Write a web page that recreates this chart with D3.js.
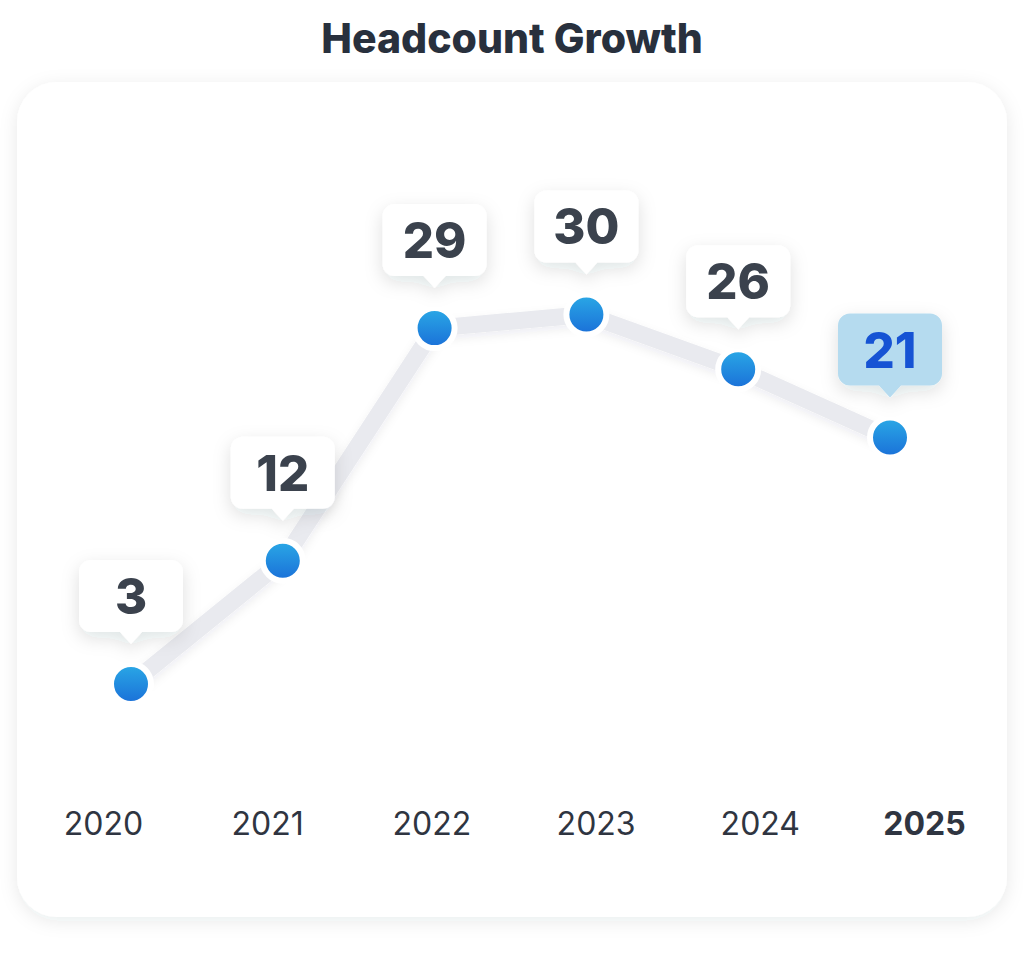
<!DOCTYPE html>
<html>
<head>
<meta charset="utf-8">
<script src="https://cdn.jsdelivr.net/npm/d3@7"></script>
<style>
  html, body { margin: 0; padding: 0; background: #fff; }
  svg { display: block; }
</style>
</head>
<body>
<svg></svg>
<script>
var W = 1024, H = 960;

// data
var years = ["2020", "2021", "2022", "2023", "2024", "2025"];
var headcount = [3, 12, 29, 30, 26, 21];
var highlightYear = "2025";
var title = "Headcount Growth";

var data = years.map(function (d, i) { return {year: d, value: headcount[i]}; });

var svg = d3.select("svg").attr("width", W).attr("height", H);

var defs = svg.append("defs");

var card = defs.append("filter").attr("id", "cardShadow")
  .attr("x", "-10%").attr("y", "-10%").attr("width", "120%").attr("height", "120%");
card.append("feDropShadow").attr("dx", 0).attr("dy", 4).attr("stdDeviation", 9)
  .attr("flood-color", "#1e2a3a").attr("flood-opacity", 0.09);

var tip = defs.append("filter").attr("id", "tipShadow")
  .attr("x", "-50%").attr("y", "-50%").attr("width", "200%").attr("height", "200%");
tip.append("feDropShadow").attr("dx", 0).attr("dy", 6).attr("stdDeviation", 9)
  .attr("flood-color", "#1e2a3a").attr("flood-opacity", 0.13);

var lineSh = defs.append("filter").attr("id", "lineShadow")
  .attr("x", "-20%").attr("y", "-20%").attr("width", "140%").attr("height", "140%");
lineSh.append("feDropShadow").attr("dx", 0).attr("dy", 4).attr("stdDeviation", 5)
  .attr("flood-color", "#1e2a3a").attr("flood-opacity", 0.07);

var grad = defs.append("linearGradient").attr("id", "dotGrad")
  .attr("x1", 0).attr("y1", 0).attr("x2", 0).attr("y2", 1);
grad.append("stop").attr("offset", "0%").attr("stop-color", "#2aa9e6");
grad.append("stop").attr("offset", "100%").attr("stop-color", "#1a6fd8");

// title
svg.append("text")
  .attr("x", W / 2).attr("y", 53)
  .attr("text-anchor", "middle")
  .attr("font-family", "Inter, 'Open Sans', sans-serif")
  .attr("font-weight", 800)
  .attr("font-size", 41)
  .attr("fill", "#28303d")
  .text(title);

// card
svg.append("rect")
  .attr("x", 17).attr("y", 82).attr("width", 990).attr("height", 835)
  .attr("rx", 40)
  .attr("fill", "#fff")
  .attr("filter", "url(#cardShadow)");

// scales
var x = d3.scalePoint().domain(years).range([131, 890]);
var xLabel = d3.scalePoint().domain(years).range([103, 924]);
var y = d3.scaleLinear().domain([0, 35]).range([725, 246]);

// axis labels
var axis = svg.append("g")
  .attr("transform", "translate(0,812)")
  .call(d3.axisBottom(xLabel).tickSize(0).tickPadding(0));
axis.select(".domain").remove();
axis.selectAll("text")
  .attr("font-family", "Inter, 'Open Sans', sans-serif")
  .attr("font-size", 32)
  .attr("fill", "#2f3541")
  .attr("font-weight", function (d) { return d === highlightYear ? 700 : 400; });

// line
var line = d3.line()
  .x(function (d) { return x(d.year); })
  .y(function (d) { return y(d.value); });

svg.append("path")
  .datum(data)
  .attr("d", line)
  .attr("fill", "none")
  .attr("stroke", "#e9eaef")
  .attr("stroke-width", 17)
  .attr("stroke-linejoin", "round")
  .attr("filter", "url(#lineShadow)");

// points
svg.selectAll(".dot")
  .data(data)
  .join("circle")
  .attr("class", "dot")
  .attr("cx", function (d) { return x(d.year); })
  .attr("cy", function (d) { return y(d.value); })
  .attr("r", 20)
  .attr("fill", "url(#dotGrad)")
  .attr("stroke", "#fff")
  .attr("stroke-width", 6);

// value callouts
var bw = 104, bh = 72, gap = 52, ptr = 12;
var callout = svg.selectAll(".callout")
  .data(data)
  .join("g")
  .attr("class", "callout")
  .attr("transform", function (d) {
    return "translate(" + x(d.year) + "," + (y(d.value) - gap) + ")";
  })
  .attr("filter", "url(#tipShadow)");

callout.append("path")
  .attr("d", "M" + (-bw / 2 + 12) + "," + (-bh) +
    "h" + (bw - 24) + "a12,12 0 0 1 12,12" +
    "v" + (bh - 24) + "a12,12 0 0 1 -12,12" +
    "H11L0," + ptr + "L-11,0" +
    "H" + (-bw / 2 + 12) + "a12,12 0 0 1 -12,-12" +
    "v" + (-(bh - 24)) + "a12,12 0 0 1 12,-12Z")
  .attr("fill", function (d) { return d.year === highlightYear ? "#b5dbef" : "#fff"; });

callout.append("text")
  .attr("y", -bh / 2 + 18)
  .attr("text-anchor", "middle")
  .attr("font-family", "Inter, 'Open Sans', sans-serif")
  .attr("font-weight", 800)
  .attr("font-size", 49)
  .attr("fill", function (d) { return d.year === highlightYear ? "#1552d4" : "#3a424d"; })
  .text(function (d) { return d.value; });
</script>
</body>
</html>
